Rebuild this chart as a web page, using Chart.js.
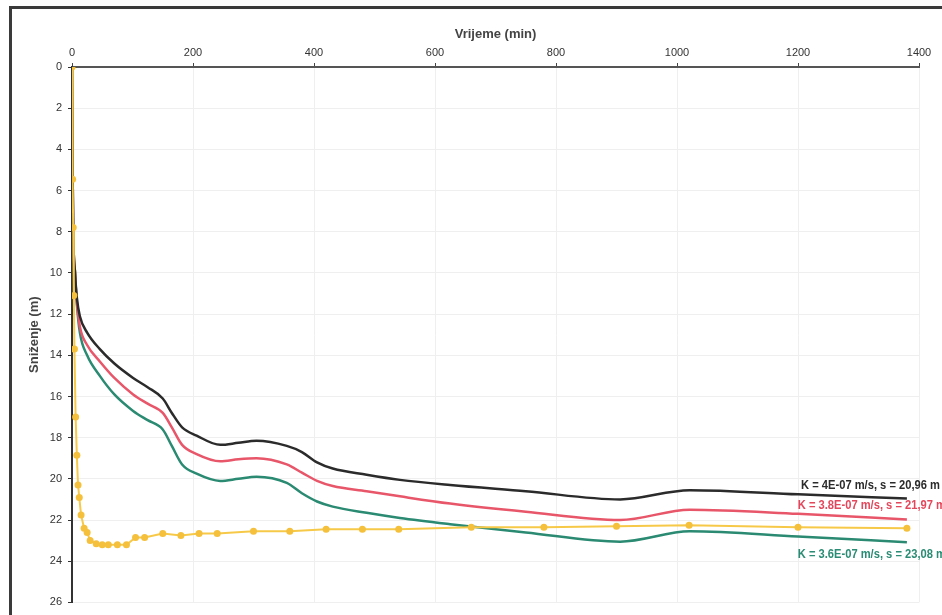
<!DOCTYPE html>
<html>
<head>
<meta charset="utf-8">
<script src="https://cdn.jsdelivr.net/npm/chart.js@4"></script>
<style>
  html, body { margin: 0; padding: 0; background: #fff; overflow: hidden; }
  #wrap { position: relative; width: 942px; height: 615px; }
  #frame {
    position: absolute; left: 9px; top: 6px; width: 960px; height: 640px;
    border-left: 3px solid #3a3a3a; border-top: 3px solid #3a3a3a;
  }
  canvas { position: absolute; left: 0; top: 0; }
</style>
</head>
<body>
<div id="wrap">
  <div id="frame"></div>
  <canvas id="chart" width="942" height="615"></canvas>
</div>
<script>
/* =========================
   DATA
========================= */
// measured drawdown (yellow markers)
const measuredTime = [0, 1, 2, 3, 4, 6, 8, 10, 12, 15, 20, 25, 30, 40, 50, 60, 75, 90,
  105, 120, 150, 180, 210, 240, 300, 360, 420, 480, 540, 660, 780, 900, 1020, 1200, 1380];
const measuredDrawdown = [0, 5.45, 7.8, 11.1, 13.7, 17.0, 18.85, 20.3, 20.9, 21.75, 22.4, 22.6, 23.0, 23.15, 23.2, 23.2, 23.2, 23.2,
  22.85, 22.85, 22.65, 22.75, 22.65, 22.65, 22.55, 22.55, 22.45, 22.45, 22.45, 22.35, 22.35, 22.3, 22.25, 22.35, 22.4];

// model curves
const modelTime = [0, 1, 2, 5, 8, 13, 25, 46, 70, 101, 125, 150, 165, 182, 206, 245, 275, 305, 355, 380, 405, 431,
  487, 542, 625, 750, 906, 1021, 1200, 1380];
const modelK40 = [0, 5, 8, 10, 11.2, 12.1, 12.9, 13.7, 14.4, 15.1, 15.55, 16.1, 16.8, 17.5, 17.9, 18.35, 18.25, 18.15, 18.4, 18.7, 19.2, 19.5,
  19.8, 20.05, 20.3, 20.6, 21.0, 20.55, 20.75, 20.96];
const modelK38 = [0, 5, 8, 10, 11.4, 12.6, 13.5, 14.3, 15.1, 15.9, 16.35, 16.8, 17.5, 18.35, 18.8, 19.15, 19.05, 19.0, 19.3, 19.7, 20.1, 20.35,
  20.6, 20.85, 21.2, 21.6, 22.0, 21.5, 21.7, 21.97];
const modelK36 = [0, 5, 8, 10, 11.5, 12.9, 14.0, 15.0, 15.9, 16.7, 17.15, 17.6, 18.4, 19.3, 19.75, 20.1, 20.0, 19.9, 20.2, 20.7, 21.1, 21.35,
  21.65, 21.9, 22.2, 22.6, 23.05, 22.55, 22.8, 23.08];

const curveLabels = [
  "K = 4E-07 m/s, s = 20,96 m",
  "K = 3.8E-07 m/s, s = 21,97 m",
  "K = 3.6E-07 m/s, s = 23,08 m"
];

const xTicks = [0, 200, 400, 600, 800, 1000, 1200, 1400];
const yTicks = [0, 2, 4, 6, 8, 10, 12, 14, 16, 18, 20, 22, 24, 26];

/* =========================
   HELPERS
========================= */
function toPoints(xs, ys) {
  return xs.map((x, i) => ({ x: x, y: ys[i] }));
}

// end-of-curve labels
const curveLabelPlugin = {
  id: "curveLabels",
  afterDatasetsDraw(chart) {
    const ctx = chart.ctx;
    const y = chart.scales.y;
    const items = [
      { text: curveLabels[0], color: "#2b2b2b", val: modelK40[modelK40.length - 1] - 0.62, right: 940 },
      { text: curveLabels[1], color: "#e4475b", val: modelK38[modelK38.length - 1] - 0.68, right: 946 },
      { text: curveLabels[2], color: "#2a8c74", val: modelK36[modelK36.length - 1] + 0.6, right: 946 }
    ];
    ctx.save();
    ctx.font = "bold 12px 'Liberation Sans', Arial, sans-serif";
    ctx.textAlign = "right";
    ctx.textBaseline = "middle";
    items.forEach(it => {
      ctx.save();
      ctx.translate(it.right, y.getPixelForValue(it.val));
      ctx.scale(0.93, 1);
      ctx.fillStyle = it.color;
      ctx.fillText(it.text, 0, 0);
      ctx.restore();
    });
    ctx.restore();
  }
};

/* =========================
   CHART
========================= */
new Chart(document.getElementById("chart"), {
  type: "line",
  data: {
    datasets: [
      {
        label: "Mjereno",
        data: toPoints(measuredTime, measuredDrawdown),
        borderColor: "#f7c948",
        backgroundColor: "#f5c03c",
        borderWidth: 2,
        pointRadius: 3.5,
        pointBorderWidth: 0,
        tension: 0
      },
      {
        label: curveLabels[0],
        data: toPoints(modelTime, modelK40),
        borderColor: "#2b2b2b",
        borderWidth: 2.5,
        pointRadius: 0,
        cubicInterpolationMode: "monotone"
      },
      {
        label: curveLabels[1],
        data: toPoints(modelTime, modelK38),
        borderColor: "#e8566a",
        borderWidth: 2.5,
        pointRadius: 0,
        cubicInterpolationMode: "monotone"
      },
      {
        label: curveLabels[2],
        data: toPoints(modelTime, modelK36),
        borderColor: "#2a8a72",
        borderWidth: 2.5,
        pointRadius: 0,
        cubicInterpolationMode: "monotone"
      }
    ]
  },
  options: {
    responsive: false,
    animation: false,
    layout: { padding: { left: 27, right: 23, top: 0, bottom: 10 } },
    plugins: {
      legend: { display: false },
      tooltip: { enabled: false }
    },
    scales: {
      x: {
        type: "linear",
        position: "top",
        min: 0,
        max: 1400,
        afterBuildTicks: (s) => { s.ticks = xTicks.map(v => ({ value: v })); },
        afterFit: (s) => { s.height = 67; },
        border: { color: "#555", width: 2 },
        grid: { color: "#efefef", tickColor: "#444", tickLength: 4 },
        ticks: {
          color: "#333",
          padding: 3,
          callback: (v) => String(v),
          font: { size: 11, family: "'Liberation Sans', Arial, sans-serif" }
        },
        title: {
          display: true,
          text: "Vrijeme (min)",
          color: "#444",
          padding: { top: 27, bottom: 4 },
          font: { size: 13, weight: "bold", family: "'Liberation Sans', Arial, sans-serif" }
        }
      },
      y: {
        type: "linear",
        reverse: true,
        min: 0,
        max: 26,
        afterBuildTicks: (s) => { s.ticks = yTicks.map(v => ({ value: v })); },
        afterFit: (s) => { s.width = 45; },
        border: { color: "#333", width: 2 },
        grid: { color: "#efefef", tickColor: "#333", tickLength: 4 },
        ticks: {
          color: "#333",
          padding: 6,
          font: { size: 11, family: "'Liberation Sans', Arial, sans-serif" }
        },
        title: {
          display: true,
          text: "Sniženje (m)",
          color: "#444",
          padding: { top: 0, bottom: 2 },
          font: { size: 13, weight: "bold", family: "'Liberation Sans', Arial, sans-serif" }
        }
      }
    }
  },
  plugins: [curveLabelPlugin]
});
</script>
</body>
</html>
